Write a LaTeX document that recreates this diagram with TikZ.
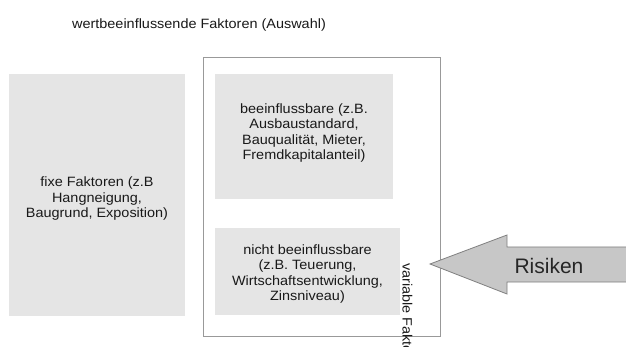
\documentclass[tikz,border=0pt]{standalone}
\usepackage{fontspec}
\setmainfont{Liberation Sans}
\newfontfamily\widefont{Liberation Sans}[FakeStretch=1.07]
\begin{document}
\begin{tikzpicture}[x=1pt,y=-1pt,
  graybox/.style={fill=black!10,draw=none,inner sep=0pt},
  small/.style={font=\widefont\fontsize{13.5}{15.5}\selectfont,align=center,text=black!90},
  outerbox/.style={draw=black!40,line width=0.8pt,fill=white}]
\useasboundingbox (0,0) rectangle (626,347);
\fill[white] (0,0) rectangle (626,347);
% title
\node[small,anchor=center] (title) at (199,25) {wertbeeinflussende Faktoren (Auswahl)};
% left box
\node[graybox,minimum width=176pt,minimum height=241pt] (fix) at (97,195) {};
\node[small] (fixtxt) at (97,199) {fixe Faktoren (z.B\\Hangneigung,\\Baugrund, Exposition)};
% outer box
\draw[outerbox] (203,57) rectangle (440,336);
% box1
\node[graybox,minimum width=178pt,minimum height=125pt] (b1) at (304,137) {};
\node[small] (b1txt) at (304,133) {beeinflussbare (z.B.\\Ausbaustandard,\\Bauqualität, Mieter,\\Fremdkapitalanteil)};
% box2
\node[graybox,minimum width=185pt,minimum height=87pt] (b2) at (307.5,271.5) {};
\node[small] (b2txt) at (307.5,274) {nicht beeinflussbare\\(z.B. Teuerung,\\Wirtschaftsentwicklung,\\Zinsniveau)};
% vertical text (cut at the lower edge, as in the reference)
\begin{scope}
\clip (0,0) rectangle (626,347);
\node[small,rotate=-90,anchor=west,inner sep=0pt] (var) at (407.5,263) {variable Faktoren};
\end{scope}
% arrow
\draw[fill=black!22,draw=black!50,line width=0.8pt]
  (430,264) -- (507,235) -- (507,247) -- (630,247) -- (630,282) -- (507,282) -- (507,294) -- cycle;
\node[font=\fontsize{21}{24}\selectfont,text=black!85] (ris) at (549,266) {Risiken};
\end{tikzpicture}
\end{document}
